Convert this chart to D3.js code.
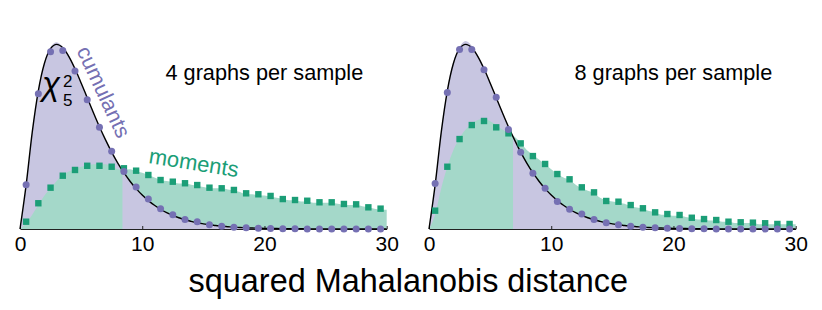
<!DOCTYPE html>
<html><head><meta charset="utf-8">
<script src="https://cdn.jsdelivr.net/npm/d3@7"></script>
<style>body{margin:0;background:#fff}svg{display:block}text{font-family:"Liberation Sans",Arial,Helvetica,sans-serif}</style>
</head><body><svg id="c" width="822" height="310"></svg>
<script>
// ---- data ----
const binX = [0,0.5,1,1.5,2,2.5,3,3.5,4,4.5,5,5.5,6,6.5,7,7.5,8,8.5,9,9.5,10,10.5,11,11.5,12,12.5,13,13.5,14,14.5,15,15.5,16,16.5,17,17.5,18,18.5,19,19.5,20,20.5,21,21.5,22,22.5,23,23.5,24,24.5,25,25.5,26,26.5,27,27.5,28,28.5,29,29.5,30];
const markerX = [0.5,1.5,2.5,3.5,4.5,5.5,6.5,7.5,8.5,9.5,10.5,11.5,12.5,13.5,14.5,15.5,16.5,17.5,18.5,19.5,20.5,21.5,22.5,23.5,24.5,25.5,26.5,27.5,28.5,29.5];
const tickValues = [0,10,20,30];
const panelTitles = ["4 graphs per sample","8 graphs per sample"];

// chi-squared (5 dof) reference density, read on the binX grid
const chi2Curve = [0,0.0366,0.0807,0.1154,0.1384,0.1506,0.1542,0.1513,0.1440,0.1338,0.1220,0.1096,0.0973,0.0854,0.0744,0.0642,0.0551,0.0470,0.0399,0.0337,0.0283,0.0237,0.0198,0.0165,0.0137,0.0113,0.0094,0.0077,0.0064,0.0052,0.0043,0.0035,0.0029,0.0023,0.0019,0.0015,0.0013,0.0010,0.0008,0.0007,0.0005,0.0004,0.0004,0.0003,0.0002,0.0002,0.0002,0.0001,0.0001,0.0001,0.0001,0,0,0,0,0,0,0,0,0,0];

// left panel (4 graphs per sample)
const cumHist4 = [0,0.037,0.081,0.116,0.139,0.152,0.156,0.152,0.145,0.134,0.122,0.110,0.097,0.085,0.074,0.064,0.055,0.048,0.040,0.034,0.028,0.024,0.020,0.017,0.014,0.011,0.009,0.008,0.006,0.005,0.004,0.0035,0.003,0.0023,0.0019,0.0015,0.0012,0.001,0.0008,0.0007,0.0005,0.0004,0.0004,0.0003,0.0002,0.0002,0.0002,0.0001,0.0001,0.0001,0.0001,0.0001,0,0,0,0,0,0,0,0,0];
const momHist4 = [0,0.005,0.012,0.020,0.028,0.034,0.040,0.045,0.048,0.050,0.052,0.053,0.054,0.054,0.054,0.052,0.050,0.0495,0.050,0.048,0.047,0.045,0.043,0.041,0.040,0.039,0.038,0.038,0.037,0.036,0.035,0.034,0.034,0.034,0.033,0.032,0.031,0.029,0.029,0.028,0.028,0.027,0.026,0.025,0.024,0.024,0.023,0.023,0.022,0.022,0.022,0.022,0.021,0.020,0.020,0.020,0.019,0.018,0.017,0.016,0.016];
const cumPts4 = [0.037,0.113,0.148,0.149,0.132,0.108,0.085,0.065,0.048,0.035,0.025,0.017,0.012,0.008,0.006,0.0035,0.0023,0.0015,0.001,0.0007,0.0004,0.0003,0.0002,0.0001,0.0001,0,0,0,0,0];
const momPts4 = [0.0061,0.0215,0.0345,0.0445,0.0493,0.0528,0.0528,0.052,0.0507,0.0487,0.0451,0.0409,0.0395,0.0382,0.0367,0.0345,0.034,0.0326,0.0298,0.029,0.0276,0.025,0.0242,0.0236,0.0223,0.0223,0.0209,0.0206,0.0181,0.017];

// right panel (8 graphs per sample)
const cumHist8 = [0,0.038,0.082,0.117,0.140,0.152,0.157,0.153,0.145,0.135,0.123,0.110,0.098,0.086,0.075,0.064,0.055,0.047,0.040,0.034,0.029,0.024,0.020,0.016,0.014,0.011,0.009,0.008,0.006,0.005,0.004,0.0035,0.003,0.0023,0.0019,0.0015,0.0012,0.001,0.0008,0.0007,0.0005,0.0004,0.0004,0.0003,0.0002,0.0002,0.0002,0.0001,0.0001,0.0001,0.0001,0.0001,0,0,0,0,0,0,0,0,0];
const momHist8 = [0,0.012,0.034,0.052,0.066,0.076,0.083,0.088,0.091,0.092,0.090,0.087,0.083,0.080,0.077,0.072,0.066,0.062,0.058,0.054,0.050,0.046,0.043,0.041,0.037,0.034,0.032,0.030,0.026,0.024,0.023,0.022,0.021,0.019,0.018,0.017,0.015,0.014,0.012,0.012,0.011,0.011,0.010,0.009,0.008,0.008,0.007,0.007,0.006,0.006,0.005,0.005,0.005,0.005,0.004,0.004,0.004,0.004,0.004,0.004,0.004];
const cumPts8 = [0.038,0.114,0.150,0.150,0.133,0.110,0.083,0.064,0.0465,0.034,0.023,0.0165,0.0125,0.008,0.0053,0.0035,0.0023,0.0015,0.001,0.0007,0.0004,0.0003,0.0002,0.0001,0.0001,0,0,0,0,0];
const momPts8 = [0.0153,0.052,0.0751,0.0868,0.0902,0.0849,0.0799,0.0715,0.0609,0.0543,0.0459,0.0415,0.0348,0.0306,0.0234,0.0228,0.02,0.0173,0.0139,0.0125,0.0117,0.0094,0.0083,0.0075,0.0061,0.0056,0.0053,0.0048,0.0042,0.0042];

// ---- drawing ----
const C = {cumFill:"#c8c6e1", momFill:"#a4d8c9", cum:"#7570b3", mom:"#1b9e77"};
const svg = d3.select("#c");
const baseY = 229, topY = 37.4;
const y = d3.scaleLinear().domain([0,0.16]).range([baseY, topY]);

const panels = [
  {r:[20,386.7], cumH:cumHist4, momH:momHist4, cumP:cumPts4, momP:momPts4, title:panelTitles[0], labels:true},
  {r:[429,795.7], cumH:cumHist8, momH:momHist8, cumP:cumPts8, momP:momPts8, title:panelTitles[1], labels:false}
];

panels.forEach((p, k) => {
  const x = d3.scaleLinear().domain([0,30]).range(p.r);
  const g = svg.append("g");
  const area = vals => d3.area().x((d,i)=>x(binX[i])).y0(baseY).y1(d=>y(d)).curve(d3.curveMonotoneX)(vals);

  // crossing point where the moment histogram rises above the cumulant one
  let cross = 30;
  for (let i = 1; i < binX.length; i++) {
    if (p.momH[i] > p.cumH[i]) {
      const d0 = p.cumH[i-1]-p.momH[i-1], d1 = p.cumH[i]-p.momH[i];
      cross = binX[i-1] + (binX[i]-binX[i-1]) * d0/(d0-d1);
      break;
    }
  }
  const clipId = "clip"+k;
  svg.append("clipPath").attr("id", clipId).append("rect")
    .attr("x", x(cross)).attr("y", 0).attr("width", x(30)-x(cross)+2).attr("height", baseY+1);

  g.append("path").attr("d", area(p.cumH)).attr("fill", C.cumFill);
  g.append("path").attr("d", area(p.momH)).attr("fill", C.momFill);
  g.append("path").attr("d", area(p.cumH)).attr("fill", C.cumFill).attr("clip-path", `url(#${clipId})`);

  // axis
  const ax = g.append("g").attr("transform", `translate(0,${baseY})`)
    .call(d3.axisBottom(x).tickValues(tickValues).tickSizeInner(-3).tickSizeOuter(0).tickPadding(7));
  ax.selectAll("path,line").attr("stroke", "#222").attr("stroke-width", 1);
  ax.selectAll("text").attr("font-size", 21).attr("fill", "#000").attr("font-family", "Liberation Sans, Arial, sans-serif");

  // chi-squared curve
  g.append("path")
    .attr("d", d3.line().x((d,i)=>x(binX[i])).y(d=>y(d)).curve(d3.curveMonotoneX)(chi2Curve))
    .attr("fill", "none").attr("stroke", "#000").attr("stroke-width", 1.4);

  // markers
  g.selectAll("rect.m").data(p.momP).join("rect").attr("class","m")
    .attr("x", (d,i)=>x(markerX[i])-3.2).attr("y", d=>y(d)-3.2).attr("width", 6.4).attr("height", 6.4)
    .attr("fill", C.mom);
  g.selectAll("circle.c").data(p.cumP).join("circle").attr("class","c")
    .attr("cx", (d,i)=>x(markerX[i])).attr("cy", d=>y(d)).attr("r", 3.5)
    .attr("fill", C.cum);

  // title
  g.append("text").attr("x", x(0)+145.5).attr("y", 80).attr("font-size", 21.7).attr("fill","#000").text(p.title);

  if (p.labels) {
    g.append("text").attr("transform", "translate(97,95) rotate(65)").attr("text-anchor","middle")
      .attr("font-size", 21.5).attr("fill", C.cum).text("cumulants");
    g.append("text").attr("transform", "translate(148,163) rotate(9)")
      .attr("font-size", 22).attr("fill", C.mom).text("moments");
    const chi = g.append("g").attr("font-family", "DejaVu Serif, serif");
    chi.append("text").attr("x", 42).attr("y", 95).attr("font-size", 33).attr("font-style","italic").text("χ");
    chi.append("text").attr("x", 63).attr("y", 87).attr("font-size", 17).attr("font-family","Liberation Serif, serif").text("2");
    chi.append("text").attr("x", 63).attr("y", 106).attr("font-size", 17).attr("font-family","Liberation Serif, serif").text("5");
  }
});

svg.append("text").attr("x", 408.3).attr("y", 291.7).attr("text-anchor","middle")
  .attr("font-size", 32.4).attr("fill","#000").text("squared Mahalanobis distance");
</script></body></html>
